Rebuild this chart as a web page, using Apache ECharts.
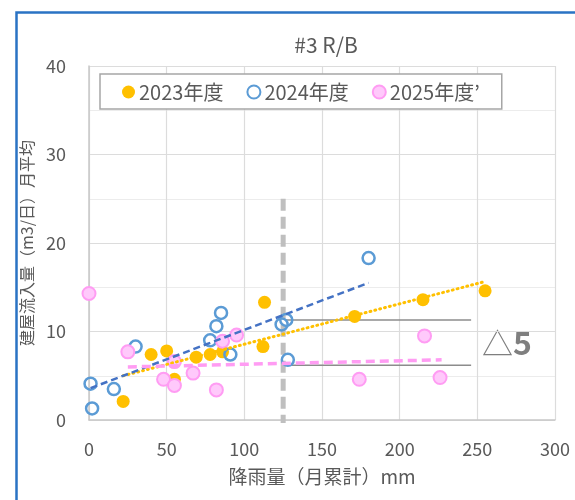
<!DOCTYPE html>
<html>
<head>
<meta charset="utf-8">
<script src="https://cdn.jsdelivr.net/npm/echarts@6/dist/echarts.min.js"></script>
<style>
  html, body { margin: 0; padding: 0; background: #fff; }
  #main { width: 575px; height: 500px; }
</style>
</head>
<body>
<div id="main"></div>
<script>
// 降雨量 (mm) と 建屋流入量 (m3/日) の読み取り値
var rain2023 = [22, 40, 50, 55, 69, 78, 86, 112, 113, 171, 215, 255]
var flow2023 = [2.1, 7.4, 7.8, 4.6, 7.1, 7.4, 7.7, 8.3, 13.3, 11.7, 13.6, 14.6]
var rain2024 = [1, 2, 16, 30, 78, 82, 85, 91, 124, 127, 128, 180]
var flow2024 = [4.1, 1.3, 3.5, 8.3, 9.0, 10.6, 12.1, 7.4, 10.8, 11.3, 6.8, 18.3]
var rain2025 = [0, 25, 55, 48, 55, 67, 82, 86, 95, 174, 216, 226]
var flow2025 = [14.3, 7.7, 6.6, 4.6, 3.9, 5.3, 3.4, 8.9, 9.6, 4.6, 9.5, 4.8]

// 近似直線の両端
var trend2023 = [[22, 5.0], [254, 15.6]]
var trend2024 = [[1, 3.6], [180, 15.5]]
var trend2025 = [[25, 6.0], [227, 6.8]]

// 補助線
var borderLine = [[125, 25], [125, -0.35]]
var upperLevel = [[127, 11.3], [246, 11.3]]
var lowerLevel = [[127, 6.2], [246, 6.2]]

var xTicks = [0, 300, 50]
var yTicks = [0, 40, 10]

var names = ['2023年度', '2024年度', '2025年度’']

function zip(xs, ys) {
    return xs.map(function (x, i) { return [x, ys[i]] })
}

var textColor = '#595959'
var font = '"Noto Sans CJK JP", "Noto Sans", sans-serif'

var chart = echarts.init(document.getElementById('main'))

var guide = function (data, color, width, dash) {
    return {
        type: 'line', data: data, symbol: 'none', silent: true, clip: false,
        lineStyle: { color: color, width: width, type: dash },
        z: 1
    }
}
var trend = function (data, color, width, dash, cap) {
    return {
        type: 'line', data: data, symbol: 'none', silent: true,
        lineStyle: { color: color, width: width, type: dash, cap: cap || 'butt' },
        z: 4
    }
}

chart.setOption({
    animation: false,
    textStyle: { fontFamily: font },
    title: {
        text: '#3 R/B',
        left: 321, top: 30, textAlign: 'center',
        textStyle: { color: textColor, fontSize: 21, fontWeight: 'normal', fontFamily: font }
    },
    legend: {
        data: names,
        left: 100, top: 74,
        padding: [8, 22, 7, 22],
        itemGap: 23,
        itemWidth: 13, itemHeight: 13,
        borderColor: '#a6a6a6', borderWidth: 1.5,
        backgroundColor: '#fff',
        textStyle: { color: textColor, fontSize: 20, fontFamily: font, padding: [0, 0, 0, -1] }
    },
    grid: { left: 89, right: 20, top: 66, bottom: 80 },
    xAxis: {
        type: 'value', min: xTicks[0], max: xTicks[1], interval: xTicks[2],
        name: '降雨量（月累計）mm', nameLocation: 'middle', nameGap: 47,
        nameTextStyle: { color: textColor, fontSize: 19 },
        axisLine: { show: true, lineStyle: { color: '#c8c8c8', width: 1.5 } },
        axisTick: { show: false },
        axisLabel: { color: textColor, fontSize: 18, margin: 20 },
        splitLine: { lineStyle: { color: '#dcdcdc', width: 1.2 } }
    },
    yAxis: {
        type: 'value', min: yTicks[0], max: yTicks[1], interval: yTicks[2],
        name: '建屋流入量（m3/日）月平均', nameLocation: 'middle', nameGap: 43,
        nameTextStyle: { color: textColor, fontSize: 16 },
        axisLine: { show: true, lineStyle: { color: '#c8c8c8', width: 1.5 } },
        axisTick: { show: false },
        minorTick: { show: false, splitNumber: 2 },
        axisLabel: { color: textColor, fontSize: 18, margin: 23 },
        splitLine: { lineStyle: { color: '#dcdcdc', width: 1.2 } },
        minorSplitLine: { show: true, lineStyle: { color: '#ececec', width: 1.2 } }
    },
    graphic: [
        {
            type: 'rect', left: 14, top: 10, silent: true,
            shape: { width: 620, height: 600 },
            style: { fill: null, stroke: '#2a73c4', lineWidth: 2.5 }
        },
        {
            type: 'text', left: 482, top: 327, silent: true,
            style: {
                text: '{a|△}{b|5}',
                rich: {
                    a: { fontSize: 31, fill: '#7f7f7f', fontFamily: font },
                    b: { fontSize: 32, fontWeight: 'bold', fill: '#7f7f7f', fontFamily: font }
                }
            }
        }
    ],
    series: [
        guide(borderLine, '#bfbfbf', 5, [12, 6]),
        guide(upperLevel, '#8c8c8c', 1.5, 'solid'),
        guide(lowerLevel, '#8c8c8c', 1.5, 'solid'),
        {
            name: names[0], type: 'scatter', data: zip(rain2023, flow2023),
            symbolSize: 13, z: 3,
            itemStyle: { color: '#ffc000', opacity: 1 }
        },
        {
            name: names[1], type: 'scatter', data: zip(rain2024, flow2024),
            symbolSize: 12, z: 3,
            itemStyle: { color: 'rgba(255,255,255,0)', borderColor: '#5b9bd5', borderWidth: 2.5, opacity: 1 }
        },
        {
            name: names[2], type: 'scatter', data: zip(rain2025, flow2025),
            symbolSize: 13, z: 3,
            itemStyle: { color: '#ffc9fb', borderColor: '#ff9cf3', borderWidth: 2, opacity: 1 }
        },
        trend(trend2023, '#ffc000', 3, [1, 4], 'round'),
        trend(trend2024, '#4472c4', 2.5, [7, 4]),
        trend(trend2025, '#ff9cf3', 3.5, [9, 5])
    ]
})
</script>
</body>
</html>
